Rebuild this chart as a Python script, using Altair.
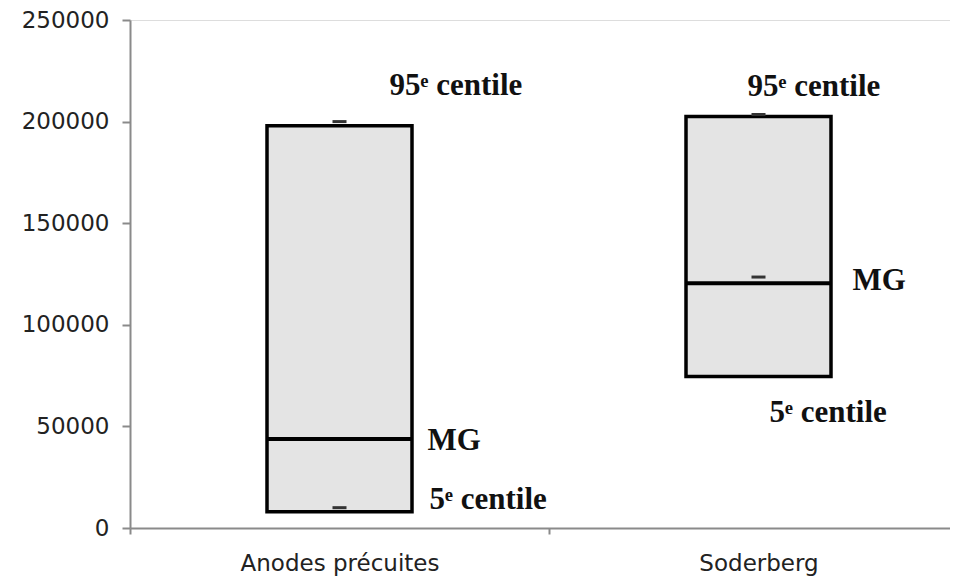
import altair as alt
import pandas as pd

categories = ["Anodes précuites", "Soderberg"]
p5 = [8000, 74500]
p95 = [198000, 202500]
mg = [43800, 120500]

cap_cat = ["Anodes précuites", "Anodes précuites", "Soderberg", "Soderberg"]
cap_val = [200000, 10000, 203500, 123500]

label_kinds = ["p95", "mg", "p5"]
label_texts = ["95ᵉ centile", "MG", "5ᵉ centile"]

boxes = pd.DataFrame({"cat": categories, "p5": p5, "p95": p95, "mg": mg})
caps = pd.DataFrame({"cat": cap_cat, "v": cap_val})

rows = []
for i, c in enumerate(categories):
    vals = {"p95": p95[i], "mg": mg[i], "p5": p5[i]}
    for k, t in zip(label_kinds, label_texts):
        rows.append({"cat": c, "kind": k, "text": t, "v": vals[k]})
labels = pd.DataFrame(rows)

xenc = alt.X(
    "cat:N",
    sort=categories,
    scale=alt.Scale(domain=categories, range=[0, 838], paddingInner=0, paddingOuter=0),
    axis=alt.Axis(
        title=None, labelAngle=0, tickBand="extent", tickSize=6,
        labelPadding=18, labelFont="DejaVu Sans", labelFontSize=23,
        labelColor="#222222", domainColor="#8a8a8a", domainWidth=2,
        tickColor="#8a8a8a", tickWidth=2, labelOverlap=False, labelLimit=0,
    ),
)
yscale = alt.Scale(domain=[0, 250000], nice=False, zero=True)
yaxis = alt.Axis(
    title=None, values=[0, 50000, 100000, 150000, 200000, 250000],
    format="d", grid=False, tickSize=8, labelPadding=13,
    labelFont="DejaVu Sans", labelFontSize=23, labelColor="#222222",
    domainColor="#8a8a8a", domainWidth=2, tickColor="#8a8a8a", tickWidth=2,
)

bars = alt.Chart(boxes).mark_bar(
    size=145, fill="#e4e4e4", stroke="#000000", strokeWidth=3.5, opacity=1
).encode(
    x=xenc,
    y=alt.Y("p5:Q", scale=yscale, axis=yaxis),
    y2="p95:Q",
)

mgline = alt.Chart(boxes).mark_tick(
    size=145, thickness=4, color="#000000", orient="horizontal", opacity=1
).encode(x=alt.X("cat:N", sort=categories), y=alt.Y("mg:Q"))

capmarks = alt.Chart(caps).mark_tick(
    size=14, thickness=3, color="#333333", orient="horizontal", opacity=1
).encode(x=alt.X("cat:N", sort=categories), y=alt.Y("v:Q"))

offsets = {
    ("Anodes précuites", "p95"): (50, -40),
    ("Anodes précuites", "mg"): (88, 2),
    ("Anodes précuites", "p5"): (90, -12),
    ("Soderberg", "p95"): (-11, -30),
    ("Soderberg", "mg"): (94, -2),
    ("Soderberg", "p5"): (11, 36),
}

text_layers = []
for (c, k), (dx, dy) in offsets.items():
    text_layers.append(
        alt.Chart(labels).transform_filter(
            (alt.datum.cat == c) & (alt.datum.kind == k)
        ).mark_text(
            align="left", baseline="middle", dx=dx, dy=dy,
            font="Liberation Serif", fontWeight="bold", fontSize=31,
            color="#111111",
        ).encode(x=alt.X("cat:N", sort=categories), y=alt.Y("v:Q"), text="text:N")
    )

chart = alt.layer(bars, mgline, capmarks, *text_layers).properties(
    width=820, height=508,
    autosize=alt.AutoSizeParams(type="none"),
    padding={"left": 122, "top": 12, "right": 0, "bottom": 56},
).configure_view(stroke=None).configure(background="white")

chart.save("out.html", embed_options={"renderer": "svg", "actions": False})
